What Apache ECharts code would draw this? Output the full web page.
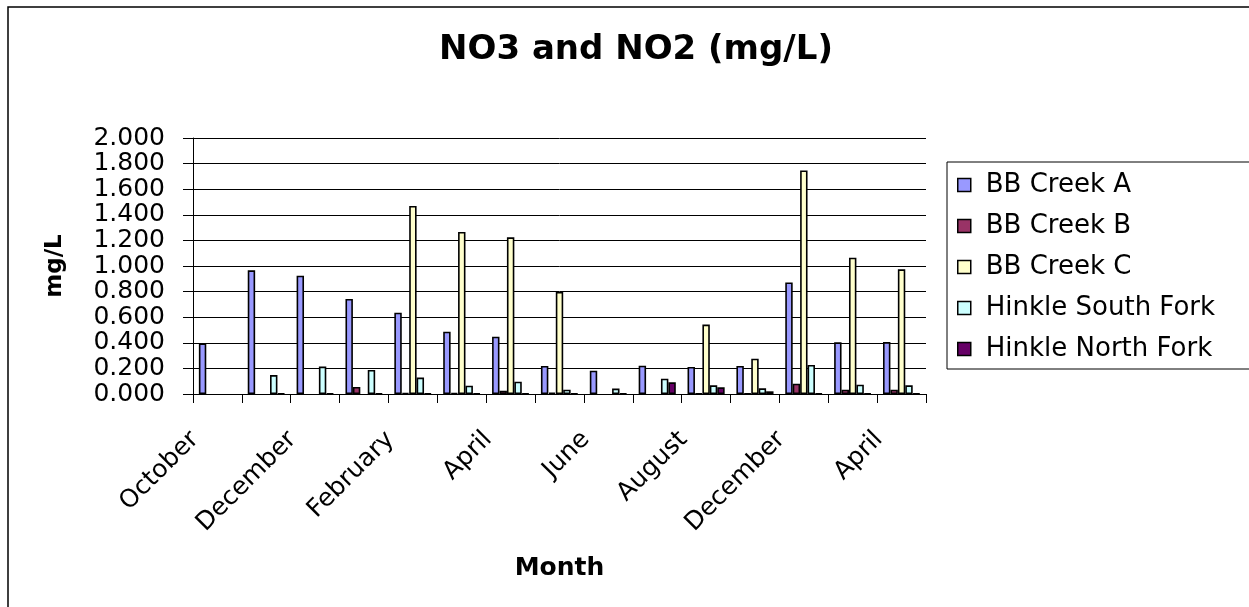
<!DOCTYPE html>
<html>
<head>
<meta charset="utf-8">
<script src="https://cdn.jsdelivr.net/npm/echarts@6/dist/echarts.min.js"></script>
<style>
  html, body { margin: 0; padding: 0; background: #fff; }
  #main { width: 1249px; height: 607px; }
</style>
</head>
<body>
<div id="main"></div>
<script>
// 月份（只显示隔一个的标签）
const months = ['October', 'November', 'December', 'January', 'February', 'March', 'April', 'May',
  'June', 'July', 'August', 'November', 'December', 'February', 'April']
const bbCreekA = [0.395, 0.966, 0.924, 0.742, 0.635, 0.487, 0.448, 0.219, 0.182, 0.221, 0.211, 0.219, 0.872, 0.404, 0.406]
const bbCreekB = [null, null, null, 0.055, 0.008, 0.008, 0.026, 0.010, null, null, 0.005, 0.005, 0.081, 0.034, 0.034]
const bbCreekC = [null, null, null, null, 1.469, 1.266, 1.224, 0.797, null, null, 0.542, 0.276, 1.747, 1.065, 0.974]
const hinkleSouth = [null, 0.148, 0.214, 0.188, 0.128, 0.065, 0.096, 0.034, 0.042, 0.120, 0.068, 0.044, 0.227, 0.073, 0.068]
const hinkleNorth = [null, 0.005, 0.005, 0.005, 0.005, 0.005, 0.005, 0.005, 0.005, 0.091, 0.052, 0.021, 0.005, 0.005, 0.005]

const font = 'DejaVu Sans'
const myChart = echarts.init(document.getElementById('main'))

function bar (name, data, color) {
  return {
    name: name,
    type: 'bar',
    data: data,
    barGap: '0%',
    barCategoryGap: '24%',
    itemStyle: { color: color, borderColor: '#000', borderWidth: 1.6 }
  }
}

const option = {
  backgroundColor: '#fff',
  animation: false,
  title: {
    text: 'NO3 and NO2 (mg/L)',
    left: 631,
    textAlign: 'center',
    top: 28,
    textStyle: { fontFamily: font, fontSize: 34, fontWeight: 'bold', color: '#000' }
  },
  // 外框和图例框
  graphic: [
    {
      type: 'rect',
      shape: { x: 8, y: 7, width: 1270, height: 630 },
      style: { fill: 'none', stroke: '#000', lineWidth: 1.5 },
      silent: true
    },
    {
      type: 'rect',
      shape: { x: 947, y: 162, width: 320, height: 207 },
      style: { fill: 'none', stroke: '#000', lineWidth: 1 },
      silent: true
    }
  ],
  legend: {
    orient: 'vertical',
    left: 957,
    top: 171,
    padding: 0,
    itemWidth: 13,
    itemHeight: 13,
    itemGap: 13,
    icon: 'rect',
    itemStyle: { borderColor: '#000', borderWidth: 1.5 },
    textStyle: { fontFamily: font, fontSize: 26, lineHeight: 28, color: '#000', padding: [0, 0, 0, 10] },
    data: ['BB Creek A', 'BB Creek B', 'BB Creek C', 'Hinkle South Fork', 'Hinkle North Fork']
  },
  grid: {
    left: 193,
    right: 323,
    top: 138,
    bottom: 213
  },
  xAxis: {
    type: 'category',
    data: months,
    name: 'Month',
    nameLocation: 'middle',
    nameGap: 162,
    nameTextStyle: { fontFamily: font, fontSize: 25, fontWeight: 'bold', color: '#000' },
    axisLine: { lineStyle: { color: '#000', width: 1 } },
    axisTick: { show: true, length: 9, interval: 0, lineStyle: { color: '#000' } },
    axisLabel: {
      interval: 1,
      rotate: 45,
      margin: 19,
      padding: [0, 32, 0, 0],
      fontFamily: font,
      fontSize: 25,
      color: '#000'
    }
  },
  yAxis: {
    type: 'value',
    min: 0,
    max: 2,
    interval: 0.2,
    name: 'mg/L',
    nameLocation: 'middle',
    nameGap: 126,
    nameRotate: 90,
    nameTextStyle: { fontFamily: font, fontSize: 23, fontWeight: 'bold', color: '#000' },
    axisLine: { show: true, lineStyle: { color: '#000', width: 1 } },
    axisTick: { show: true, length: 10, inside: false, lineStyle: { color: '#000' } },
    axisLabel: {
      margin: 28,
      fontFamily: font,
      fontSize: 25,
      color: '#000',
      formatter: function (v) { return v.toFixed(3) }
    },
    splitLine: { lineStyle: { color: '#000', width: 1 } }
  },
  series: [
    bar('BB Creek A', bbCreekA, '#9999FF'),
    bar('BB Creek B', bbCreekB, '#993366'),
    bar('BB Creek C', bbCreekC, '#FFFFCC'),
    bar('Hinkle South Fork', hinkleSouth, '#CCFFFF'),
    bar('Hinkle North Fork', hinkleNorth, '#660066')
  ]
}
option && myChart.setOption(option)
</script>
</body>
</html>
